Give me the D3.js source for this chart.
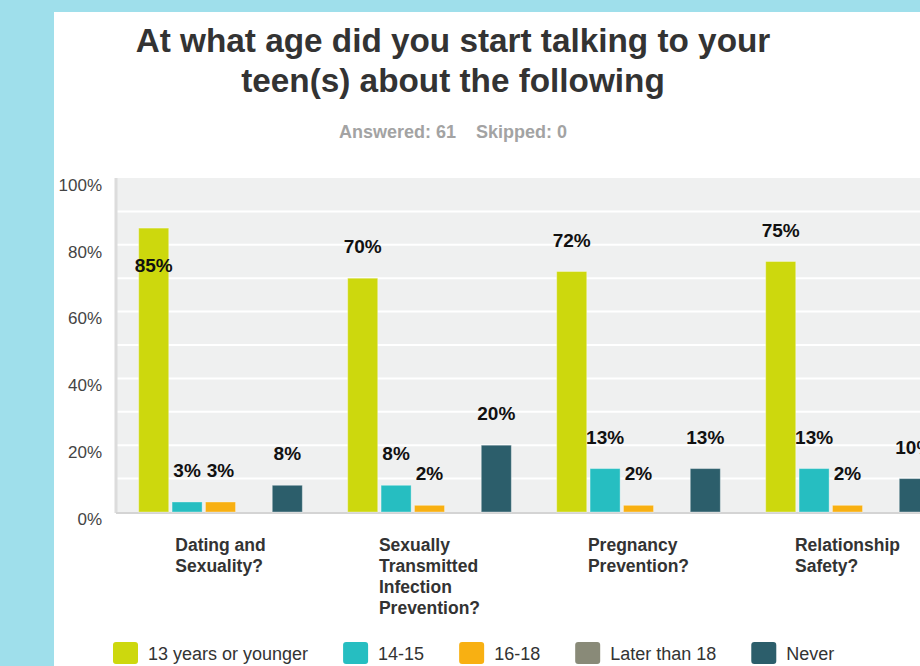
<!DOCTYPE html>
<html>
<head>
<meta charset="utf-8">
<script src="https://cdn.jsdelivr.net/npm/d3@7"></script>
<style>
  html, body { margin: 0; padding: 0; background: #9fdfeb; }
  svg { display: block; font-family: "Liberation Sans", Arial, Helvetica, sans-serif; }
</style>
</head>
<body>
<svg id="chart" width="920" height="666"></svg>
<script>
// Survey question: answer categories and the share of respondents per age bracket
const categories = [
  ["Dating and", "Sexuality?"],
  ["Sexually", "Transmitted", "Infection", "Prevention?"],
  ["Pregnancy", "Prevention?"],
  ["Relationship", "Safety?"]
];
const seriesNames = ["13 years or younger", "14-15", "16-18", "Later than 18", "Never"];
const youngest  = [0.85, 0.70, 0.72, 0.75];
const age14to15 = [0.03, 0.08, 0.13, 0.13];
const age16to18 = [0.03, 0.02, 0.02, 0.02];
const laterThan18 = [0, 0, 0, 0];
const never     = [0.08, 0.20, 0.13, 0.10];
const yTicks = [0, 0.2, 0.4, 0.6, 0.8, 1.0];
const colors = ["#cdd80d", "#26bec1", "#f8b012", "#898a78", "#2c5e6b"];

const seriesValues = [youngest, age14to15, age16to18, laterThan18, never];
const catKeys = categories.map((c, i) => "c" + i);

const svg = d3.select("#chart");

// white card on the blue page
svg.append("rect").attr("x", 54).attr("y", 12).attr("width", 900).attr("height", 700).attr("fill", "#ffffff");

// title + response counts
const title = svg.append("text").attr("text-anchor", "middle").attr("fill", "#333")
  .style("font-size", "33.3px").style("font-weight", "bold");
title.append("tspan").attr("x", 453).attr("y", 52).text("At what age did you start talking to your");
title.append("tspan").attr("x", 453).attr("y", 92).text("teen(s) about the following");

svg.append("text").attr("x", 453).attr("y", 138).attr("text-anchor", "middle")
  .attr("fill", "#a3a3a3").style("font-size", "18px").style("font-weight", "bold")
  .attr("xml:space", "preserve")
  .text("Answered: 61    Skipped: 0");

// scales
const plotLeft = 116, plotTop = 178, plotBottom = 512;
const x0 = d3.scaleBand().domain(catKeys).range([plotLeft, plotLeft + 4 * 209]);
const x1 = d3.scaleBand().domain(seriesNames).range([21, 188]).paddingInner(0.1).paddingOuter(0.05);
const y = d3.scaleLinear().domain([0, 1]).range([plotBottom, plotTop]);

// plot background and gridlines
svg.append("rect").attr("x", plotLeft).attr("y", plotTop)
  .attr("width", 920 - plotLeft).attr("height", plotBottom - plotTop).attr("fill", "#eff0f0");

svg.append("g").selectAll("line").data(d3.range(1, 10).map(d => d / 10)).join("line")
  .attr("x1", plotLeft).attr("x2", 920)
  .attr("y1", d => y(d)).attr("y2", d => y(d))
  .attr("stroke", "#ffffff").attr("stroke-width", 2);

// y axis
const yAxis = svg.append("g").attr("transform", `translate(${plotLeft},0)`)
  .call(d3.axisLeft(y).tickValues(yTicks).tickFormat(d3.format(".0%")).tickSize(0).tickPadding(14));
yAxis.select(".domain").remove();
yAxis.selectAll("text").attr("dy", "0.72em").attr("fill", "#444")
  .style("font-size", "17px").style("font-family", "\"Liberation Sans\", Arial, sans-serif");

svg.append("line").attr("x1", plotLeft).attr("x2", plotLeft).attr("y1", plotTop).attr("y2", plotBottom + 1)
  .attr("stroke", "#dcdcdc").attr("stroke-width", 3);
svg.append("line").attr("x1", plotLeft).attr("x2", 920).attr("y1", plotBottom + 1).attr("y2", plotBottom + 1)
  .attr("stroke", "#d4d4d4").attr("stroke-width", 2);

// bars
const flat = [];
catKeys.forEach((k, ci) => seriesNames.forEach((s, si) => {
  flat.push({ cat: k, series: s, si, value: seriesValues[si][ci] });
}));

const groups = svg.append("g");
groups.selectAll("rect").data(flat.filter(d => d.value > 0)).join("rect")
  .attr("x", d => x0(d.cat) + x1(d.series))
  .attr("y", d => y(d.value))
  .attr("width", x1.bandwidth())
  .attr("height", d => y(0) - y(d.value))
  .attr("fill", d => colors[d.si])
  .attr("stroke", "rgba(255,255,255,0.35)").attr("stroke-width", 1);

// value labels: above the bar, or inside when the bar is tall
groups.selectAll("text").data(flat.filter(d => d.value > 0)).join("text")
  .attr("x", d => x0(d.cat) + x1(d.series) + x1.bandwidth() / 2)
  .attr("y", d => d.value > 0.8 ? y(d.value) + 44 : y(d.value) - 25)
  .attr("text-anchor", "middle").attr("fill", "#111")
  .style("font-size", "19px").style("font-weight", "bold")
  .text(d => d3.format(".0%")(d.value));

// category labels: left-aligned lines, block centred under each group
const catG = svg.append("g");
categories.forEach((lines, i) => {
  const t = catG.append("text").attr("fill", "#333")
    .style("font-size", "17.5px").style("font-weight", "bold");
  lines.forEach((ln, j) => t.append("tspan").attr("y", 551 + j * 21).text(ln));
  const w = d3.max(t.selectAll("tspan").nodes(), n => n.getComputedTextLength());
  const cx = x0(catKeys[i]) + x0.bandwidth() / 2;
  t.selectAll("tspan").attr("x", cx - w / 2);
});

// legend
let lx = 113;
seriesNames.forEach((s, i) => {
  svg.append("rect").attr("x", lx).attr("y", 642).attr("width", 25).attr("height", 22)
    .attr("rx", 3).attr("fill", colors[i]);
  const t = svg.append("text").attr("x", lx + 35).attr("y", 660).attr("fill", "#333")
    .style("font-size", "18px").text(s);
  lx += 35 + t.node().getComputedTextLength() + 35;
});
</script>
</body>
</html>
